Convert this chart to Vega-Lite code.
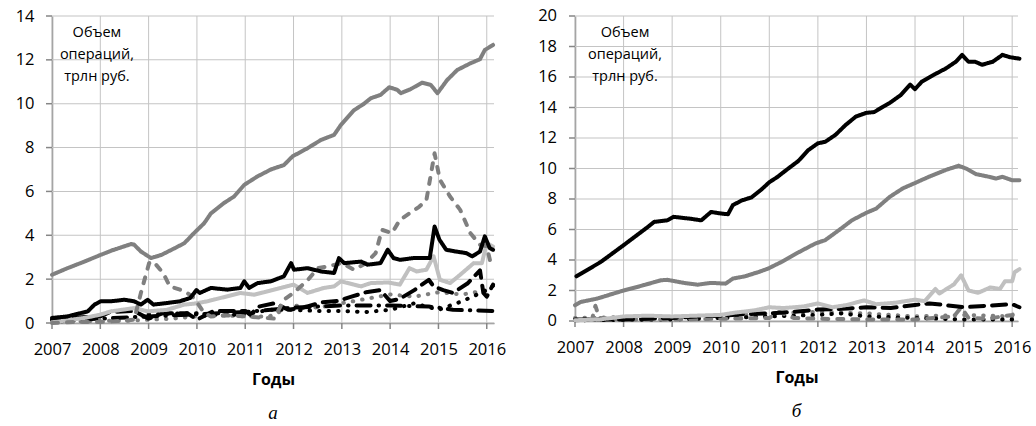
{
  "$schema": "https://vega.github.io/schema/vega-lite/v6.json",
  "background": "white",
  "padding": {"left": 15, "top": 8, "right": 5, "bottom": 0},
  "spacing": 32,
  "config": {
    "font": "Open Sans",
    "view": {"stroke": null},
    "axis": {
      "labelFont": "Open Sans", "labelFontSize": 16.5, "labelColor": "#000", "labelPadding": 18, "labelOverlap": false, "labelFlush": false,
      "domainColor": "#868686", "domainWidth": 1.5, "grid": false, "ticks": false,
      "titleFont": "Open Sans", "titleFontWeight": "bold", "titleFontSize": 16, "titleColor": "#000"
    },
    "line": {"strokeWidth": 4, "strokeCap": "round", "strokeJoin": "round"},
    "title": {"font": "Liberation Serif", "fontStyle": "italic", "fontWeight": "normal", "fontSize": 19, "color": "#000"}
  },
  "datasets": {
    "years": [{"v":2007},{"v":2008},{"v":2009},{"v":2010},{"v":2011},{"v":2012},{"v":2013},{"v":2014},{"v":2015},{"v":2016}],
    "levelsA": [{"v":0},{"v":2},{"v":4},{"v":6},{"v":8},{"v":10},{"v":12},{"v":14}],
    "levelsB": [{"v":0},{"v":2},{"v":4},{"v":6},{"v":8},{"v":10},{"v":12},{"v":14},{"v":16},{"v":18},{"v":20}],
    "noteA": [{"x": 2007.93, "y": 13.22, "label": "Объем\nопераций,\nтрлн руб."}],
    "noteB": [{"x": 2008.03, "y": 18.89, "label": "Объем\nопераций,\nтрлн руб."}],
    "a": [
      {"s":"grayDot","x":2007.0,"y":0.05},{"s":"grayDot","x":2008.0,"y":0.1},{"s":"grayDot","x":2008.5,"y":0.1},{"s":"grayDot","x":2009.0,"y":0.15},{"s":"grayDot","x":2009.5,"y":0.2},{"s":"grayDot","x":2010.0,"y":0.3},{"s":"grayDot","x":2010.5,"y":0.35},{"s":"grayDot","x":2011.0,"y":0.3},{"s":"grayDot","x":2011.5,"y":0.3},{"s":"grayDot","x":2012.0,"y":0.8},{"s":"grayDot","x":2012.5,"y":0.7},{"s":"grayDot","x":2013.0,"y":0.9},{"s":"grayDot","x":2013.5,"y":1.1},{"s":"grayDot","x":2014.0,"y":1.3},{"s":"grayDot","x":2014.5,"y":1.2},{"s":"grayDot","x":2015.0,"y":1.4},{"s":"grayDot","x":2015.5,"y":1.3},{"s":"grayDot","x":2016.0,"y":1.5},{"s":"grayDot","x":2016.13,"y":1.6},
      {"s":"blackDot","x":2009.0,"y":0.4},{"s":"blackDot","x":2010.0,"y":0.45},{"s":"blackDot","x":2010.5,"y":0.35},{"s":"blackDot","x":2011.0,"y":0.4},{"s":"blackDot","x":2011.5,"y":0.6},{"s":"blackDot","x":2012.0,"y":0.6},{"s":"blackDot","x":2012.5,"y":0.55},{"s":"blackDot","x":2013.0,"y":0.55},{"s":"blackDot","x":2013.5,"y":0.5},{"s":"blackDot","x":2014.0,"y":0.6},{"s":"blackDot","x":2014.5,"y":0.9},{"s":"blackDot","x":2015.0,"y":0.6},{"s":"blackDot","x":2015.5,"y":1.0},{"s":"blackDot","x":2016.0,"y":1.5},{"s":"blackDot","x":2016.13,"y":1.7},
      {"s":"blackDashDot","x":2007.0,"y":0.1},{"s":"blackDashDot","x":2009.0,"y":0.3},{"s":"blackDashDot","x":2011.0,"y":0.5},{"s":"blackDashDot","x":2012.0,"y":0.7},{"s":"blackDashDot","x":2013.0,"y":0.8},{"s":"blackDashDot","x":2014.0,"y":0.8},{"s":"blackDashDot","x":2014.8,"y":0.75},{"s":"blackDashDot","x":2015.0,"y":0.7},{"s":"blackDashDot","x":2015.3,"y":0.6},{"s":"blackDashDot","x":2016.13,"y":0.55},
      {"s":"blackDash","x":2007.0,"y":0.15},{"s":"blackDash","x":2007.5,"y":0.25},{"s":"blackDash","x":2008.0,"y":0.3},{"s":"blackDash","x":2008.2,"y":0.5},{"s":"blackDash","x":2008.7,"y":0.55},{"s":"blackDash","x":2009.0,"y":0.2},{"s":"blackDash","x":2009.3,"y":0.45},{"s":"blackDash","x":2009.8,"y":0.45},{"s":"blackDash","x":2010.0,"y":0.15},{"s":"blackDash","x":2010.35,"y":0.55},{"s":"blackDash","x":2011.0,"y":0.55},{"s":"blackDash","x":2011.1,"y":0.38},{"s":"blackDash","x":2011.3,"y":0.76},{"s":"blackDash","x":2011.6,"y":0.9},{"s":"blackDash","x":2011.9,"y":0.6},{"s":"blackDash","x":2012.2,"y":0.7},{"s":"blackDash","x":2012.6,"y":0.95},{"s":"blackDash","x":2012.9,"y":1.0},{"s":"blackDash","x":2013.2,"y":1.2},{"s":"blackDash","x":2013.5,"y":1.4},{"s":"blackDash","x":2013.8,"y":1.5},{"s":"blackDash","x":2014.0,"y":1.0},{"s":"blackDash","x":2014.2,"y":1.1},{"s":"blackDash","x":2014.5,"y":1.5},{"s":"blackDash","x":2014.8,"y":1.97},{"s":"blackDash","x":2014.9,"y":1.67},{"s":"blackDash","x":2015.1,"y":1.5},{"s":"blackDash","x":2015.3,"y":1.37},{"s":"blackDash","x":2015.6,"y":1.8},{"s":"blackDash","x":2015.86,"y":2.4},{"s":"blackDash","x":2015.93,"y":1.37},{"s":"blackDash","x":2016.0,"y":1.2},{"s":"blackDash","x":2016.13,"y":1.75},
      {"s":"light","x":2007.0,"y":0.03},{"s":"light","x":2007.67,"y":0.23},{"s":"light","x":2008.0,"y":0.38},{"s":"light","x":2008.22,"y":0.53},{"s":"light","x":2008.7,"y":0.68},{"s":"light","x":2008.98,"y":0.53},{"s":"light","x":2009.38,"y":0.6},{"s":"light","x":2009.74,"y":0.84},{"s":"light","x":2009.94,"y":0.88},{"s":"light","x":2010.22,"y":0.99},{"s":"light","x":2010.63,"y":1.22},{"s":"light","x":2010.9,"y":1.37},{"s":"light","x":2011.18,"y":1.29},{"s":"light","x":2011.46,"y":1.44},{"s":"light","x":2011.74,"y":1.6},{"s":"light","x":2012.0,"y":1.75},{"s":"light","x":2012.29,"y":1.37},{"s":"light","x":2012.63,"y":1.6},{"s":"light","x":2012.84,"y":1.67},{"s":"light","x":2012.98,"y":1.9},{"s":"light","x":2013.25,"y":1.75},{"s":"light","x":2013.4,"y":1.67},{"s":"light","x":2013.6,"y":1.82},{"s":"light","x":2013.95,"y":1.85},{"s":"light","x":2014.2,"y":1.75},{"s":"light","x":2014.4,"y":2.5},{"s":"light","x":2014.55,"y":2.35},{"s":"light","x":2014.75,"y":2.43},{"s":"light","x":2014.9,"y":3.04},{"s":"light","x":2015.03,"y":1.97},{"s":"light","x":2015.24,"y":1.82},{"s":"light","x":2015.45,"y":2.2},{"s":"light","x":2015.73,"y":2.73},{"s":"light","x":2015.9,"y":2.73},{"s":"light","x":2016.0,"y":3.64},{"s":"light","x":2016.13,"y":3.49},
      {"s":"grayDash","x":2007.0,"y":0.0},{"s":"grayDash","x":2007.5,"y":0.05},{"s":"grayDash","x":2008.0,"y":0.05},{"s":"grayDash","x":2008.5,"y":0.1},{"s":"grayDash","x":2008.7,"y":0.15},{"s":"grayDash","x":2008.84,"y":1.37},{"s":"grayDash","x":2009.01,"y":2.73},{"s":"grayDash","x":2009.1,"y":2.8},{"s":"grayDash","x":2009.3,"y":2.28},{"s":"grayDash","x":2009.44,"y":1.67},{"s":"grayDash","x":2009.65,"y":1.52},{"s":"grayDash","x":2009.8,"y":1.37},{"s":"grayDash","x":2009.94,"y":1.14},{"s":"grayDash","x":2010.15,"y":0.46},{"s":"grayDash","x":2010.29,"y":0.3},{"s":"grayDash","x":2010.6,"y":0.35},{"s":"grayDash","x":2011.0,"y":0.3},{"s":"grayDash","x":2011.3,"y":0.25},{"s":"grayDash","x":2011.6,"y":0.2},{"s":"grayDash","x":2011.8,"y":1.06},{"s":"grayDash","x":2012.0,"y":1.37},{"s":"grayDash","x":2012.3,"y":1.97},{"s":"grayDash","x":2012.5,"y":2.5},{"s":"grayDash","x":2012.7,"y":2.58},{"s":"grayDash","x":2013.0,"y":2.73},{"s":"grayDash","x":2013.25,"y":2.43},{"s":"grayDash","x":2013.5,"y":2.73},{"s":"grayDash","x":2013.7,"y":3.19},{"s":"grayDash","x":2013.83,"y":4.25},{"s":"grayDash","x":2014.04,"y":4.1},{"s":"grayDash","x":2014.2,"y":4.7},{"s":"grayDash","x":2014.4,"y":5.0},{"s":"grayDash","x":2014.6,"y":5.3},{"s":"grayDash","x":2014.75,"y":5.6},{"s":"grayDash","x":2014.92,"y":7.74},{"s":"grayDash","x":2015.03,"y":6.53},{"s":"grayDash","x":2015.24,"y":5.77},{"s":"grayDash","x":2015.45,"y":5.16},{"s":"grayDash","x":2015.66,"y":4.1},{"s":"grayDash","x":2015.86,"y":3.57},{"s":"grayDash","x":2016.0,"y":3.5},{"s":"grayDash","x":2016.08,"y":2.73},
      {"s":"black","x":2007.0,"y":0.23},{"s":"black","x":2007.32,"y":0.3},{"s":"black","x":2007.74,"y":0.53},{"s":"black","x":2007.88,"y":0.84},{"s":"black","x":2008.01,"y":0.99},{"s":"black","x":2008.22,"y":0.99},{"s":"black","x":2008.5,"y":1.06},{"s":"black","x":2008.7,"y":0.99},{"s":"black","x":2008.84,"y":0.84},{"s":"black","x":2008.98,"y":1.06},{"s":"black","x":2009.1,"y":0.84},{"s":"black","x":2009.38,"y":0.91},{"s":"black","x":2009.65,"y":0.99},{"s":"black","x":2009.86,"y":1.14},{"s":"black","x":2009.99,"y":1.5},{"s":"black","x":2010.06,"y":1.37},{"s":"black","x":2010.29,"y":1.6},{"s":"black","x":2010.63,"y":1.52},{"s":"black","x":2010.9,"y":1.6},{"s":"black","x":2010.98,"y":1.9},{"s":"black","x":2011.08,"y":1.6},{"s":"black","x":2011.26,"y":1.82},{"s":"black","x":2011.53,"y":1.9},{"s":"black","x":2011.8,"y":2.13},{"s":"black","x":2011.95,"y":2.73},{"s":"black","x":2012.01,"y":2.43},{"s":"black","x":2012.29,"y":2.5},{"s":"black","x":2012.57,"y":2.35},{"s":"black","x":2012.84,"y":2.28},{"s":"black","x":2012.94,"y":2.96},{"s":"black","x":2013.05,"y":2.73},{"s":"black","x":2013.4,"y":2.8},{"s":"black","x":2013.53,"y":2.66},{"s":"black","x":2013.8,"y":2.73},{"s":"black","x":2013.95,"y":3.34},{"s":"black","x":2014.07,"y":2.96},{"s":"black","x":2014.2,"y":2.88},{"s":"black","x":2014.48,"y":2.96},{"s":"black","x":2014.82,"y":2.96},{"s":"black","x":2014.92,"y":4.4},{"s":"black","x":2015.02,"y":3.8},{"s":"black","x":2015.16,"y":3.34},{"s":"black","x":2015.36,"y":3.26},{"s":"black","x":2015.57,"y":3.19},{"s":"black","x":2015.7,"y":3.04},{"s":"black","x":2015.86,"y":3.26},{"s":"black","x":2015.96,"y":3.95},{"s":"black","x":2016.06,"y":3.42},{"s":"black","x":2016.13,"y":3.34},
      {"s":"gray","x":2007.0,"y":2.2},{"s":"gray","x":2007.32,"y":2.5},{"s":"gray","x":2007.67,"y":2.8},{"s":"gray","x":2008.0,"y":3.1},{"s":"gray","x":2008.23,"y":3.3},{"s":"gray","x":2008.64,"y":3.6},{"s":"gray","x":2008.7,"y":3.57},{"s":"gray","x":2008.84,"y":3.26},{"s":"gray","x":2009.05,"y":2.96},{"s":"gray","x":2009.26,"y":3.1},{"s":"gray","x":2009.53,"y":3.4},{"s":"gray","x":2009.74,"y":3.64},{"s":"gray","x":2009.94,"y":4.1},{"s":"gray","x":2010.15,"y":4.55},{"s":"gray","x":2010.29,"y":5.0},{"s":"gray","x":2010.56,"y":5.47},{"s":"gray","x":2010.77,"y":5.77},{"s":"gray","x":2010.98,"y":6.3},{"s":"gray","x":2011.25,"y":6.68},{"s":"gray","x":2011.53,"y":7.0},{"s":"gray","x":2011.8,"y":7.2},{"s":"gray","x":2011.98,"y":7.6},{"s":"gray","x":2012.29,"y":7.97},{"s":"gray","x":2012.57,"y":8.35},{"s":"gray","x":2012.84,"y":8.58},{"s":"gray","x":2012.98,"y":9.03},{"s":"gray","x":2013.25,"y":9.7},{"s":"gray","x":2013.46,"y":10.0},{"s":"gray","x":2013.6,"y":10.25},{"s":"gray","x":2013.8,"y":10.4},{"s":"gray","x":2013.98,"y":10.75},{"s":"gray","x":2014.15,"y":10.63},{"s":"gray","x":2014.22,"y":10.48},{"s":"gray","x":2014.42,"y":10.66},{"s":"gray","x":2014.66,"y":10.96},{"s":"gray","x":2014.84,"y":10.86},{"s":"gray","x":2014.98,"y":10.48},{"s":"gray","x":2015.18,"y":11.08},{"s":"gray","x":2015.39,"y":11.54},{"s":"gray","x":2015.66,"y":11.84},{"s":"gray","x":2015.86,"y":12.03},{"s":"gray","x":2015.96,"y":12.45},{"s":"gray","x":2016.13,"y":12.68}
    ],
    "b": [
      {"s":"grayDot","x":2007.0,"y":0.2},{"s":"grayDot","x":2008.0,"y":0.25},{"s":"grayDot","x":2009.0,"y":0.2},{"s":"grayDot","x":2010.0,"y":0.3},{"s":"grayDot","x":2011.0,"y":0.5},{"s":"grayDot","x":2012.0,"y":0.6},{"s":"grayDot","x":2013.0,"y":0.5},{"s":"grayDot","x":2014.0,"y":0.3},{"s":"grayDot","x":2015.0,"y":0.4},{"s":"grayDot","x":2016.0,"y":0.3},{"s":"grayDot","x":2016.15,"y":0.3},
      {"s":"blackDot","x":2007.0,"y":0.05},{"s":"blackDot","x":2009.0,"y":0.1},{"s":"blackDot","x":2010.0,"y":0.2},{"s":"blackDot","x":2011.0,"y":0.3},{"s":"blackDot","x":2012.0,"y":0.4},{"s":"blackDot","x":2012.5,"y":0.5},{"s":"blackDot","x":2013.0,"y":0.3},{"s":"blackDot","x":2014.0,"y":0.2},{"s":"blackDot","x":2015.0,"y":0.1},{"s":"blackDot","x":2016.0,"y":0.1},{"s":"blackDot","x":2016.15,"y":0.1},
      {"s":"grayDash","x":2007.0,"y":0.05},{"s":"grayDash","x":2007.35,"y":0.1},{"s":"grayDash","x":2007.42,"y":1.0},{"s":"grayDash","x":2007.5,"y":0.2},{"s":"grayDash","x":2008.0,"y":0.1},{"s":"grayDash","x":2009.0,"y":0.1},{"s":"grayDash","x":2010.0,"y":0.15},{"s":"grayDash","x":2011.0,"y":0.2},{"s":"grayDash","x":2011.2,"y":0.6},{"s":"grayDash","x":2011.5,"y":0.2},{"s":"grayDash","x":2012.0,"y":0.15},{"s":"grayDash","x":2013.0,"y":0.1},{"s":"grayDash","x":2014.0,"y":0.1},{"s":"grayDash","x":2014.8,"y":0.3},{"s":"grayDash","x":2014.95,"y":0.9},{"s":"grayDash","x":2015.1,"y":0.2},{"s":"grayDash","x":2015.5,"y":0.15},{"s":"grayDash","x":2016.0,"y":0.4},{"s":"grayDash","x":2016.15,"y":0.6},
      {"s":"blackDash","x":2007.0,"y":0.1},{"s":"blackDash","x":2008.0,"y":0.1},{"s":"blackDash","x":2009.0,"y":0.2},{"s":"blackDash","x":2009.5,"y":0.3},{"s":"blackDash","x":2010.0,"y":0.35},{"s":"blackDash","x":2010.5,"y":0.45},{"s":"blackDash","x":2011.0,"y":0.5},{"s":"blackDash","x":2011.5,"y":0.6},{"s":"blackDash","x":2012.0,"y":0.75},{"s":"blackDash","x":2012.5,"y":0.8},{"s":"blackDash","x":2013.0,"y":0.9},{"s":"blackDash","x":2013.5,"y":0.85},{"s":"blackDash","x":2014.0,"y":1.05},{"s":"blackDash","x":2014.3,"y":1.15},{"s":"blackDash","x":2014.6,"y":1.05},{"s":"blackDash","x":2015.0,"y":0.9},{"s":"blackDash","x":2015.5,"y":1.0},{"s":"blackDash","x":2016.0,"y":1.1},{"s":"blackDash","x":2016.15,"y":0.9},
      {"s":"light","x":2007.0,"y":0.05},{"s":"light","x":2007.5,"y":0.1},{"s":"light","x":2008.0,"y":0.3},{"s":"light","x":2008.5,"y":0.35},{"s":"light","x":2009.0,"y":0.3},{"s":"light","x":2009.5,"y":0.35},{"s":"light","x":2010.0,"y":0.4},{"s":"light","x":2010.3,"y":0.55},{"s":"light","x":2010.7,"y":0.7},{"s":"light","x":2011.0,"y":0.9},{"s":"light","x":2011.3,"y":0.85},{"s":"light","x":2011.7,"y":0.95},{"s":"light","x":2012.0,"y":1.15},{"s":"light","x":2012.3,"y":0.9},{"s":"light","x":2012.6,"y":1.05},{"s":"light","x":2012.95,"y":1.35},{"s":"light","x":2013.2,"y":1.1},{"s":"light","x":2013.6,"y":1.2},{"s":"light","x":2014.0,"y":1.4},{"s":"light","x":2014.2,"y":1.3},{"s":"light","x":2014.42,"y":2.1},{"s":"light","x":2014.5,"y":1.8},{"s":"light","x":2014.8,"y":2.4},{"s":"light","x":2014.95,"y":3.0},{"s":"light","x":2015.1,"y":2.0},{"s":"light","x":2015.3,"y":1.85},{"s":"light","x":2015.55,"y":2.2},{"s":"light","x":2015.75,"y":2.1},{"s":"light","x":2015.85,"y":2.6},{"s":"light","x":2016.0,"y":2.6},{"s":"light","x":2016.05,"y":3.2},{"s":"light","x":2016.15,"y":3.4},
      {"s":"gray","x":2007.0,"y":1.03},{"s":"gray","x":2007.12,"y":1.25},{"s":"gray","x":2007.46,"y":1.47},{"s":"gray","x":2008.0,"y":2.0},{"s":"gray","x":2008.28,"y":2.23},{"s":"gray","x":2008.77,"y":2.67},{"s":"gray","x":2008.9,"y":2.7},{"s":"gray","x":2009.24,"y":2.5},{"s":"gray","x":2009.52,"y":2.38},{"s":"gray","x":2009.8,"y":2.5},{"s":"gray","x":2010.1,"y":2.45},{"s":"gray","x":2010.25,"y":2.78},{"s":"gray","x":2010.5,"y":2.93},{"s":"gray","x":2010.77,"y":3.2},{"s":"gray","x":2010.97,"y":3.43},{"s":"gray","x":2011.25,"y":3.87},{"s":"gray","x":2011.6,"y":4.5},{"s":"gray","x":2011.94,"y":5.07},{"s":"gray","x":2012.15,"y":5.3},{"s":"gray","x":2012.43,"y":5.95},{"s":"gray","x":2012.7,"y":6.6},{"s":"gray","x":2013.0,"y":7.1},{"s":"gray","x":2013.2,"y":7.37},{"s":"gray","x":2013.48,"y":8.14},{"s":"gray","x":2013.75,"y":8.7},{"s":"gray","x":2014.0,"y":9.05},{"s":"gray","x":2014.28,"y":9.45},{"s":"gray","x":2014.63,"y":9.9},{"s":"gray","x":2014.9,"y":10.18},{"s":"gray","x":2015.05,"y":10.0},{"s":"gray","x":2015.26,"y":9.63},{"s":"gray","x":2015.53,"y":9.45},{"s":"gray","x":2015.67,"y":9.34},{"s":"gray","x":2015.8,"y":9.45},{"s":"gray","x":2016.0,"y":9.23},{"s":"gray","x":2016.15,"y":9.23},
      {"s":"black","x":2007.03,"y":2.93},{"s":"black","x":2007.53,"y":3.87},{"s":"black","x":2008.0,"y":4.97},{"s":"black","x":2008.5,"y":6.17},{"s":"black","x":2008.63,"y":6.5},{"s":"black","x":2008.9,"y":6.6},{"s":"black","x":2009.03,"y":6.83},{"s":"black","x":2009.39,"y":6.7},{"s":"black","x":2009.6,"y":6.6},{"s":"black","x":2009.8,"y":7.15},{"s":"black","x":2010.0,"y":7.05},{"s":"black","x":2010.15,"y":7.0},{"s":"black","x":2010.25,"y":7.6},{"s":"black","x":2010.43,"y":7.9},{"s":"black","x":2010.63,"y":8.1},{"s":"black","x":2010.83,"y":8.6},{"s":"black","x":2011.0,"y":9.1},{"s":"black","x":2011.17,"y":9.45},{"s":"black","x":2011.35,"y":9.9},{"s":"black","x":2011.6,"y":10.5},{"s":"black","x":2011.8,"y":11.2},{"s":"black","x":2012.0,"y":11.65},{"s":"black","x":2012.15,"y":11.75},{"s":"black","x":2012.36,"y":12.2},{"s":"black","x":2012.57,"y":12.85},{"s":"black","x":2012.78,"y":13.4},{"s":"black","x":2013.0,"y":13.65},{"s":"black","x":2013.16,"y":13.7},{"s":"black","x":2013.34,"y":14.05},{"s":"black","x":2013.48,"y":14.3},{"s":"black","x":2013.7,"y":14.8},{"s":"black","x":2013.9,"y":15.5},{"s":"black","x":2014.0,"y":15.2},{"s":"black","x":2014.14,"y":15.7},{"s":"black","x":2014.42,"y":16.2},{"s":"black","x":2014.63,"y":16.55},{"s":"black","x":2014.84,"y":17.0},{"s":"black","x":2014.97,"y":17.45},{"s":"black","x":2015.1,"y":17.0},{"s":"black","x":2015.24,"y":17.0},{"s":"black","x":2015.38,"y":16.8},{"s":"black","x":2015.6,"y":17.0},{"s":"black","x":2015.8,"y":17.45},{"s":"black","x":2015.95,"y":17.3},{"s":"black","x":2016.15,"y":17.2}
    ]
  },
  "hconcat": [
    {
      "width": 442, "height": 307,
      "title": {"text": "а", "orient": "bottom", "offset": 16},
      "layer": [
        {
          "data": {"name": "years"},
          "mark": {"type": "tick", "orient": "vertical", "size": 307, "thickness": 1, "color": "#c4c4c4", "opacity": 1},
          "encoding": {"x": {"field": "v", "type": "quantitative", "scale": {"domain": [2007, 2016.15], "nice": false, "zero": false}}}
        },
        {
          "data": {"name": "levelsA"},
          "mark": {"type": "tick", "orient": "horizontal", "size": 442, "thickness": 1, "color": "#c4c4c4", "opacity": 1},
          "encoding": {"y": {"field": "v", "type": "quantitative", "scale": {"domain": [0, 14], "nice": false}}}
        },
        {
          "data": {"name": "years"},
          "mark": {"type": "tick", "orient": "vertical", "size": 6, "thickness": 1.5, "color": "#868686", "opacity": 1, "yOffset": 3},
          "encoding": {"x": {"field": "v", "type": "quantitative"}, "y": {"datum": 0}}
        },
        {
          "data": {"name": "levelsA"},
          "mark": {"type": "tick", "orient": "horizontal", "size": 6, "thickness": 1.5, "color": "#868686", "opacity": 1, "xOffset": -3},
          "encoding": {"y": {"field": "v", "type": "quantitative"}, "x": {"datum": 2007}}
        },
        {
          "data": {"name": "a"},
          "mark": {"type": "line"},
          "encoding": {
            "x": {"field": "x", "type": "quantitative", "scale": {"domain": [2007, 2016.15], "nice": false, "zero": false},
                  "axis": {"values": [2007,2008,2009,2010,2011,2012,2013,2014,2015,2016], "format": "d", "title": "Годы", "titlePadding": 14, "labelOverlap": false}},
            "y": {"field": "y", "type": "quantitative", "scale": {"domain": [0, 14], "nice": false},
                  "axis": {"values": [0,2,4,6,8,10,12,14], "title": null, "labelOverlap": false}},
            "color": {"field": "s", "type": "nominal", "legend": null,
                      "scale": {"domain": ["grayDot","blackDot","blackDashDot","blackDash","light","grayDash","black","gray"],
                                "range": ["#7f7f7f","#000000","#000000","#000000","#c0c0c0","#7f7f7f","#000000","#808080"]}},
            "strokeDash": {"field": "s", "type": "nominal", "legend": null,
                      "scale": {"domain": ["grayDot","blackDot","blackDashDot","blackDash","light","grayDash","black","gray"],
                                "range": [[0.5,9],[0.5,9],[14,8,0.5,8],[14,8],[1,0],[6,9],[1,0],[1,0]]}}
          }
        },
        {
          "data": {"name": "noteA"},
          "mark": {"type": "text", "lineBreak": "\n", "fontSize": 14.5, "lineHeight": 22, "align": "center", "baseline": "middle", "font": "Open Sans", "color": "#000"},
          "encoding": {
            "x": {"field": "x", "type": "quantitative"},
            "y": {"field": "y", "type": "quantitative"},
            "text": {"field": "label", "type": "nominal"}
          }
        }
      ]
    },
    {
      "width": 443, "height": 305,
      "title": {"text": "б", "orient": "bottom", "offset": 16},
      "layer": [
        {
          "data": {"name": "years"},
          "mark": {"type": "tick", "orient": "vertical", "size": 305, "thickness": 1, "color": "#c4c4c4", "opacity": 1},
          "encoding": {"x": {"field": "v", "type": "quantitative", "scale": {"domain": [2007, 2016.12], "nice": false, "zero": false}}}
        },
        {
          "data": {"name": "levelsB"},
          "mark": {"type": "tick", "orient": "horizontal", "size": 443, "thickness": 1, "color": "#c4c4c4", "opacity": 1},
          "encoding": {"y": {"field": "v", "type": "quantitative", "scale": {"domain": [0, 20], "nice": false}}}
        },
        {
          "data": {"name": "years"},
          "mark": {"type": "tick", "orient": "vertical", "size": 6, "thickness": 1.5, "color": "#868686", "opacity": 1, "yOffset": 3},
          "encoding": {"x": {"field": "v", "type": "quantitative"}, "y": {"datum": 0}}
        },
        {
          "data": {"name": "levelsB"},
          "mark": {"type": "tick", "orient": "horizontal", "size": 6, "thickness": 1.5, "color": "#868686", "opacity": 1, "xOffset": -3},
          "encoding": {"y": {"field": "v", "type": "quantitative"}, "x": {"datum": 2007}}
        },
        {
          "data": {"name": "levelsB"},
          "mark": {"type": "text", "align": "right", "baseline": "middle", "fontSize": 16.5, "font": "Open Sans", "color": "#000", "xOffset": -18},
          "encoding": {"y": {"field": "v", "type": "quantitative"}, "x": {"datum": 2007}, "text": {"field": "v", "type": "quantitative"}}
        },
        {
          "data": {"name": "b"},
          "mark": {"type": "line"},
          "encoding": {
            "x": {"field": "x", "type": "quantitative", "scale": {"domain": [2007, 2016.12], "nice": false, "zero": false},
                  "axis": {"values": [2007,2008,2009,2010,2011,2012,2013,2014,2015,2016], "format": "d", "title": "Годы", "titlePadding": 14, "labelOverlap": false}},
            "y": {"field": "y", "type": "quantitative", "scale": {"domain": [0, 20], "nice": false},
                  "axis": {"values": [0,2,4,6,8,10,12,14,16,18,20], "title": null, "labels": false}},
            "color": {"field": "s", "type": "nominal", "legend": null,
                      "scale": {"domain": ["grayDot","blackDot","blackDashDot","blackDash","light","grayDash","black","gray"],
                                "range": ["#7f7f7f","#000000","#000000","#000000","#c0c0c0","#7f7f7f","#000000","#808080"]}},
            "strokeDash": {"field": "s", "type": "nominal", "legend": null,
                      "scale": {"domain": ["grayDot","blackDot","blackDashDot","blackDash","light","grayDash","black","gray"],
                                "range": [[0.5,9],[0.5,9],[14,8,0.5,8],[14,8],[1,0],[6,9],[1,0],[1,0]]}}
          }
        },
        {
          "data": {"name": "noteB"},
          "mark": {"type": "text", "lineBreak": "\n", "fontSize": 14.5, "lineHeight": 22, "align": "center", "baseline": "middle", "font": "Open Sans", "color": "#000"},
          "encoding": {
            "x": {"field": "x", "type": "quantitative"},
            "y": {"field": "y", "type": "quantitative"},
            "text": {"field": "label", "type": "nominal"}
          }
        }
      ]
    }
  ]
}
